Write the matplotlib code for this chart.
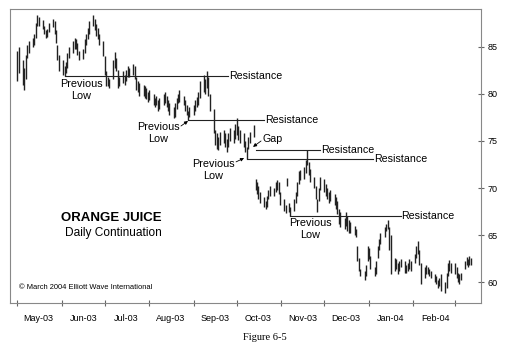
import pandas as pd
import matplotlib
matplotlib.use("Agg")
import matplotlib.pyplot as plt
import matplotlib.dates as mdates
from matplotlib.ticker import FixedLocator

plt.rcParams['font.family'] = ['Liberation Sans', 'DejaVu Sans']

# daily high / low (one list per month)
hi_may = [84.6, 85.0, 83.6, 82.8, 84.2, 85.2, 85.6, 86.0, 86.4, 87.6, 88.4, 88.2, 87.9, 87.2, 86.8, 86.9, 87.6, 88.0, 87.8, 86.8, 85.2, 84.2]
lo_may = [81.4, 82.2, 81.0, 80.4, 81.6, 83.8, 84.4, 85.0, 85.2, 86.0, 87.2, 87.2, 86.9, 86.4, 86.0, 86.1, 86.6, 87.1, 86.4, 85.4, 83.6, 82.4]
hi_jun = [83.6, 83.0, 83.4, 84.4, 85.0, 85.6, 86.0, 85.8, 85.4, 84.6, 84.8, 85.8, 86.4, 87.0, 87.8, 88.4, 88.0, 87.4, 87.0, 86.4, 85.6]
lo_jun = [82.0, 81.9, 82.2, 82.8, 83.8, 84.4, 84.8, 84.8, 84.2, 83.6, 83.7, 84.4, 85.2, 85.8, 86.4, 87.2, 86.8, 86.2, 85.8, 85.2, 84.0]
hi_jul = [84.0, 82.4, 81.8, 81.6, 83.6, 84.5, 83.8, 82.6, 81.8, 82.4, 82.0, 82.6, 83.0, 82.8, 83.2, 83.0, 81.8, 81.4, 81.2, 81.0, 80.8, 80.6, 80.2]
lo_jul = [82.0, 80.8, 80.8, 80.6, 81.6, 82.8, 82.4, 80.6, 80.8, 81.2, 81.0, 81.4, 81.8, 81.8, 82.0, 81.6, 80.4, 80.2, 79.8, 79.8, 79.6, 79.5, 79.2]
hi_aug = [80.4, 80.0, 79.6, 79.8, 79.4, 79.6, 80.0, 80.2, 79.8, 79.4, 79.0, 78.6, 79.0, 79.6, 80.0, 80.4, 79.8, 79.4, 78.8, 78.2, 78.6]
lo_aug = [79.4, 78.8, 78.6, 78.8, 78.2, 78.4, 78.8, 79.0, 78.6, 78.2, 77.8, 77.4, 77.6, 78.4, 79.0, 79.2, 78.8, 78.2, 77.8, 77.2, 77.6]
hi_sep = [78.8, 79.4, 79.7, 80.2, 81.4, 82.0, 81.6, 82.4, 81.8, 80.0, 78.4, 76.2, 75.8, 75.4, 76.0, 76.2, 75.8, 75.2, 75.8, 76.4, 76.2, 76.8]
lo_sep = [77.8, 78.2, 78.6, 78.8, 79.6, 80.2, 80.0, 80.6, 79.8, 78.2, 75.8, 74.6, 74.2, 74.0, 74.6, 74.8, 74.4, 73.8, 74.4, 75.0, 74.8, 75.2]
hi_oct = [77.4, 76.6, 76.2, 75.8, 75.0, 74.4, 75.4, 76.0, 76.7, 71.0, 70.6, 70.2, 69.6, 69.0, 68.6, 69.2, 69.8, 70.2, 70.0, 70.6, 70.9, 70.6, 69.6]
lo_oct = [75.6, 75.1, 74.8, 74.4, 73.8, 73.1, 74.2, 74.8, 75.4, 69.8, 69.4, 68.8, 68.4, 68.0, 67.8, 68.0, 68.8, 69.2, 69.2, 69.6, 69.8, 69.4, 68.2]
hi_nov = [68.8, 68.2, 71.1, 68.4, 68.0, 68.8, 69.6, 70.6, 71.8, 71.9, 72.2, 73.0, 74.0, 72.8, 72.0, 71.2, 70.2, 68.8, 70.0, 71.2]
lo_nov = [67.6, 67.3, 70.2, 67.4, 67.0, 67.6, 68.4, 69.2, 70.4, 70.8, 71.0, 71.6, 72.4, 71.4, 70.6, 70.0, 68.8, 67.4, 68.6, 69.8]
hi_dec = [71.0, 70.4, 70.0, 69.6, 69.8, 69.4, 69.0, 68.6, 67.8, 67.4, 66.8, 67.4, 67.0, 66.6, 66.4, 66.0, 65.6, 63.8, 62.6, 61.4, 61.2, 61.8, 63.8]
lo_dec = [69.6, 69.2, 68.8, 68.4, 68.6, 68.2, 67.8, 67.2, 66.2, 65.8, 65.6, 66.0, 65.4, 65.2, 65.2, 65.0, 64.8, 62.2, 61.2, 60.6, 60.2, 60.6, 62.2]
hi_jan = [63.6, 62.8, 61.6, 62.2, 63.8, 64.6, 65.2, 65.8, 66.2, 66.6, 65.8, 65.0, 62.6, 62.4, 62.0, 62.2, 62.4, 62.2, 61.8, 62.0, 62.4, 62.2]
lo_jan = [62.4, 61.4, 60.6, 60.8, 62.6, 63.4, 64.0, 64.8, 65.4, 65.6, 63.4, 60.8, 61.2, 61.4, 60.8, 61.2, 61.6, 61.0, 61.0, 61.2, 61.4, 61.2]
hi_feb = [63.0, 63.8, 64.4, 63.4, 62.0, 61.6, 61.8, 61.6, 61.4, 61.2, 60.8, 60.6, 60.2, 60.4, 60.8, 60.0, 61.0, 62.0, 62.3, 62.0]
lo_feb = [62.0, 62.6, 63.0, 61.8, 59.8, 60.4, 60.8, 60.8, 60.6, 60.4, 60.0, 59.8, 59.4, 59.6, 59.0, 58.8, 59.4, 60.6, 61.2, 61.0]
hi_mar = [62.0, 61.6, 61.0, 60.8, 61.0, 62.2, 62.7, 62.4, 62.8, 62.6]
lo_mar = [60.8, 60.4, 60.0, 59.8, 60.2, 61.4, 61.8, 61.6, 61.8, 61.8]

month_starts = ['2003-05-01', '2003-06-01', '2003-07-01', '2003-08-01', '2003-09-01', '2003-10-01',
                '2003-11-01', '2003-12-01', '2004-01-01', '2004-02-01', '2004-03-01']
highs = [hi_may, hi_jun, hi_jul, hi_aug, hi_sep, hi_oct, hi_nov, hi_dec, hi_jan, hi_feb, hi_mar]
lows = [lo_may, lo_jun, lo_jul, lo_aug, lo_sep, lo_oct, lo_nov, lo_dec, lo_jan, lo_feb, lo_mar]

# resistance lines (start, end, level)
res_start = ['2003-06-03', '2003-08-28', '2003-10-08', '2003-10-14', '2003-11-07']
res_end = ['2003-09-25', '2003-10-20', '2004-01-04', '2003-11-28', '2004-01-23']
res_level = [81.9, 77.2, 73.1, 74.0, 67.0]

fig = plt.figure(figsize=(5.1, 3.57), dpi=100)
ax = fig.add_axes([0.0196, 0.1513, 0.9235, 0.8235])

# high-low bars
for start, h, l in zip(month_starts, highs, lows):
    days = pd.bdate_range(start, periods=len(h))
    ax.vlines(days, l, h, color='#222222', lw=1.0)

for s, e, lev in zip(res_start, res_end, res_level):
    ax.plot([pd.Timestamp(s), pd.Timestamp(e)], [lev, lev], color='#222222', lw=0.8)
    ax.annotate('Resistance', xy=(pd.Timestamp(e), lev), xytext=(0.5, 0),
                textcoords='offset points', ha='left', va='center', fontsize=7.7)

txt = dict(transform=ax.transAxes, fontsize=7.8, ha='center', va='center', linespacing=1.25)
ax.text(0.151, 0.724, 'Previous\nLow', **txt)
ax.text(0.315, 0.578, 'Previous\nLow', **txt)
ax.text(0.432, 0.452, 'Previous\nLow', **txt)
ax.text(0.637, 0.250, 'Previous\nLow', **txt)
ax.text(0.537, 0.558, 'Gap', transform=ax.transAxes, fontsize=7.7, ha='left', va='center')

arr = dict(arrowstyle='-|>', lw=0.6, color='black', mutation_scale=5, shrinkA=0, shrinkB=0)
ax.annotate('', xy=(0.378, 0.619), xytext=(0.363, 0.602), xycoords='axes fraction', arrowprops=arr)
ax.annotate('', xy=(0.497, 0.493), xytext=(0.480, 0.480), xycoords='axes fraction', arrowprops=arr)
ax.annotate('', xy=(0.516, 0.531), xytext=(0.533, 0.551), xycoords='axes fraction', arrowprops=arr)

ax.text(0.2155, 0.289, 'ORANGE JUICE', transform=ax.transAxes, fontsize=9.5,
        fontweight='bold', ha='center', va='center')
ax.text(0.219, 0.238, 'Daily Continuation', transform=ax.transAxes, fontsize=8.6,
        ha='center', va='center')
ax.text(0.019, 0.051, '\u00a9 March 2004 Elliott Wave International', transform=ax.transAxes,
        fontsize=5.4, ha='left', va='center')

fig.text(0.52, 0.056, 'Figure 6-5', family='Liberation Serif', fontsize=7.5, ha='center', va='center')

# axes
ax.set_xlim(pd.Timestamp('2003-04-26'), pd.Timestamp('2004-03-19'))
ax.set_ylim(57.77, 89.04)
ax.xaxis.set_major_locator(mdates.MonthLocator())
ax.xaxis.set_major_formatter(plt.NullFormatter())
# month names sit between the month ticks, no label for March
mids = pd.date_range('2003-05-01', periods=10, freq='MS') + pd.Timedelta(days=15)
ax.xaxis.set_minor_locator(FixedLocator(mdates.date2num(mids)))
ax.xaxis.set_minor_formatter(mdates.DateFormatter('%b-%y'))
ax.tick_params(axis='x', which='major', direction='inout', length=5, width=0.8, color='#666666')
ax.tick_params(axis='x', which='minor', length=0, pad=8, labelsize=6.5)

ax.yaxis.tick_right()
ax.set_yticks([60, 65, 70, 75, 80, 85])
ax.tick_params(axis='y', direction='inout', length=5, width=0.8, color='#666666', labelsize=6.5, pad=2)
for sp in ax.spines.values():
    sp.set_color('#888888')
    sp.set_linewidth(0.8)

fig.savefig('out.png', dpi=100)
